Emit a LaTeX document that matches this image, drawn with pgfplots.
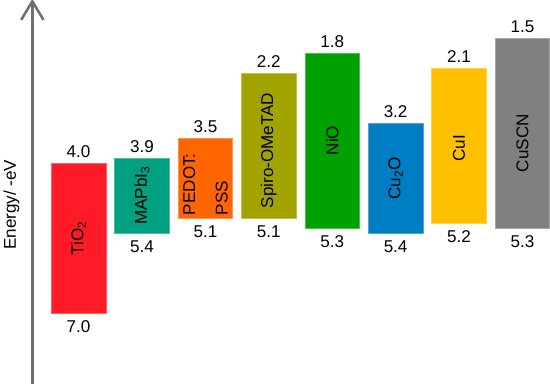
\documentclass[border=0pt]{standalone}
\usepackage{pgfplots}
\pgfplotsset{compat=1.18}
\usepackage{pgfplotstable}
\usepackage{fontspec}
\setmainfont{Liberation Sans}

\definecolor{tio}{RGB}{255,26,38}
\definecolor{mapbi}{RGB}{0,160,128}
\definecolor{pedot}{RGB}{255,102,0}
\definecolor{spiro}{RGB}{163,163,0}
\definecolor{nio}{RGB}{0,160,0}
\definecolor{cuo}{RGB}{0,126,196}
\definecolor{cui}{RGB}{255,192,0}
\definecolor{cuscn}{RGB}{128,128,128}
\definecolor{axisgray}{RGB}{112,112,112}

% energy levels (eV below vacuum): upper and lower edge
\pgfplotstableread{
x top bot
0 4.0 7.0
1 3.9 5.4
2 3.5 5.1
3 2.2 5.1
4 1.8 5.3
5 3.2 5.4
6 2.1 5.2
7 1.5 5.3
}\levels

\begin{document}
\begin{tikzpicture}[font=\fontsize{16.8}{20}\selectfont]
\begin{axis}[
    scale only axis,
    width=550pt, height=385pt,
    xmin=-1.274, xmax=7.540,
    ymin=0.675, ymax=8.480,
    y dir=reverse,
    axis lines=none,
    xtick=\empty, ytick=\empty,
    clip=false,
    /pgf/number format/fixed,
    /pgf/number format/fixed zerofill,
    /pgf/number format/precision=1,
    /pgf/number format/assume math mode=true,
]

% bars
\addplot[fill=tio, draw=tio!70!white, line width=0.6pt] coordinates {(-0.43,4.0) (0.43,4.0) (0.43,7.0) (-0.43,7.0)} -- cycle;
\addplot[fill=mapbi, draw=mapbi!70!white, line width=0.6pt] coordinates {(0.57,3.9) (1.43,3.9) (1.43,5.4) (0.57,5.4)} -- cycle;
\addplot[fill=pedot, draw=pedot!70!white, line width=0.6pt] coordinates {(1.57,3.5) (2.43,3.5) (2.43,5.1) (1.57,5.1)} -- cycle;
\addplot[fill=spiro, draw=spiro!70!white, line width=0.6pt] coordinates {(2.57,2.2) (3.43,2.2) (3.43,5.1) (2.57,5.1)} -- cycle;
\addplot[fill=nio, draw=nio!70!white, line width=0.6pt] coordinates {(3.57,1.8) (4.43,1.8) (4.43,5.3) (3.57,5.3)} -- cycle;
\addplot[fill=cuo, draw=cuo!70!white, line width=0.6pt] coordinates {(4.57,3.2) (5.43,3.2) (5.43,5.4) (4.57,5.4)} -- cycle;
\addplot[fill=cui, draw=cui!70!white, line width=0.6pt] coordinates {(5.57,2.1) (6.43,2.1) (6.43,5.2) (5.57,5.2)} -- cycle;
\addplot[fill=cuscn, draw=cuscn!70!white, line width=0.6pt] coordinates {(6.57,1.5) (7.43,1.5) (7.43,5.3) (6.57,5.3)} -- cycle;

% level values
\addplot[draw=none, mark=none, nodes near coords, point meta=explicit,
    every node near coord/.append style={anchor=south, inner sep=0pt, yshift=5pt}]
    table[x=x, y=top, meta=top] {\levels};
\addplot[draw=none, mark=none, nodes near coords, point meta=explicit,
    every node near coord/.append style={anchor=north, inner sep=0pt, yshift=-7pt}]
    table[x=x, y=bot, meta=bot] {\levels};

% material names
\node[rotate=90] at (axis cs:0,5.5) {TiO\textsubscript{2}};
\node[rotate=90] at (axis cs:1,4.65) {MAPbI\textsubscript{3}};
\node[rotate=90, anchor=west, align=left, inner sep=3pt] at (axis cs:2,5.1) {PEDOT:\\[12pt]PSS};
\node[rotate=90] at (axis cs:3,3.75) {Spiro-OMeTAD};
\node[rotate=90] at (axis cs:4,3.55) {NiO};
\node[rotate=90] at (axis cs:5,4.3) {Cu\textsubscript{2}O};
\node[rotate=90] at (axis cs:6,3.7) {CuI};
\node[rotate=90] at (axis cs:7,3.6) {CuSCN};

% energy axis
\draw[axisgray, line width=2.5pt] (axis cs:-0.729,8.399) -- (axis cs:-0.729,0.80);
\draw[axisgray, line width=2.5pt] (axis cs:-0.905,1.142) -- (axis cs:-0.729,0.77) -- (axis cs:-0.553,1.142);
\node[rotate=90] at (axis cs:-1.060,4.83) {Energy/ -eV};

\end{axis}
\end{tikzpicture}
\end{document}
